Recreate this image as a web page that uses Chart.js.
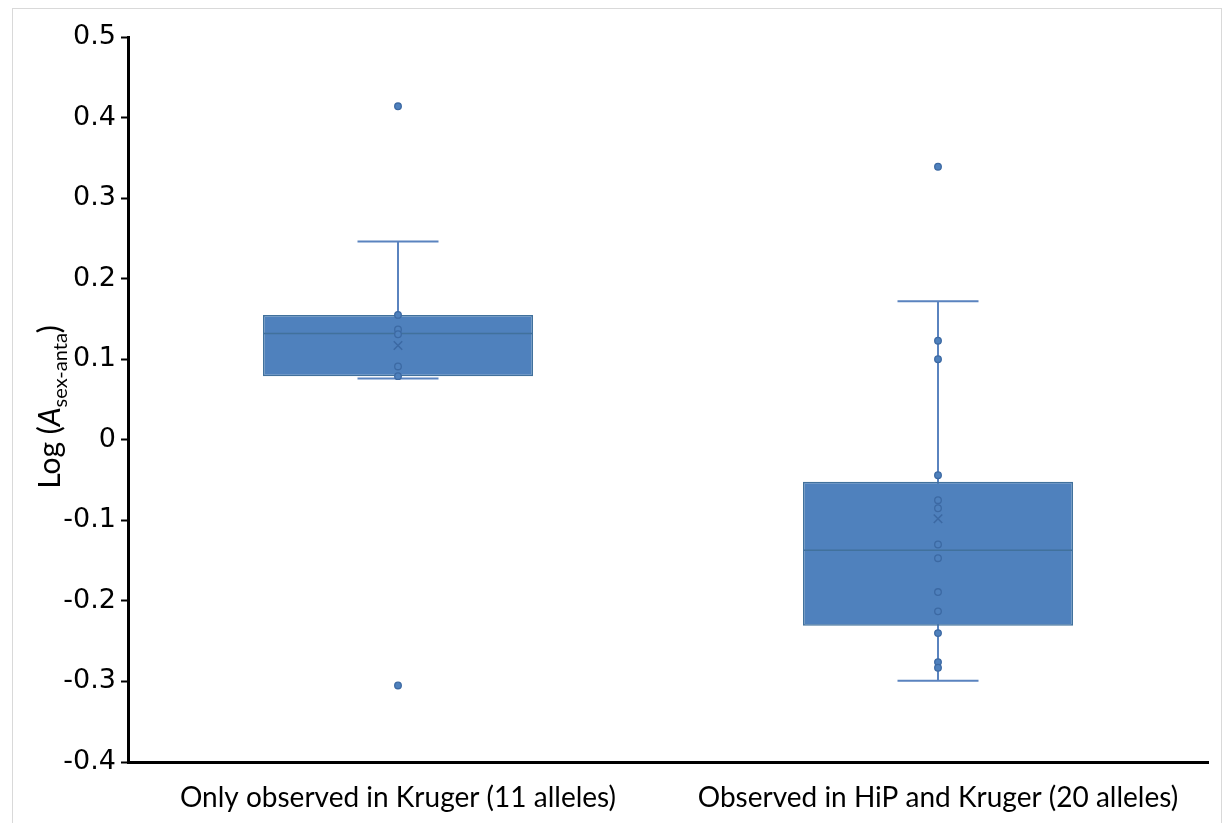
<!DOCTYPE html>
<html>
<head>
<meta charset="utf-8">
<script src="https://cdn.jsdelivr.net/npm/chart.js@4.4.1/dist/chart.umd.min.js"></script>
<style>
  body { margin: 0; background: #fff; }
  #wrap { width: 1224px; height: 823px; position: relative; }
</style>
</head>
<body>
<div id="wrap"><canvas id="boxChart"></canvas></div>
<script>
// Categories and box statistics
var categories = ['Only observed in Kruger (11 alleles)', 'Observed in HiP and Kruger (20 alleles)'];
var q1 = [0.079, -0.231];
var q3 = [0.155, -0.052];
var median = [0.132, -0.137];
var mean = [0.117, -0.098];
var whiskerLow = [0.076, -0.299];
var whiskerHigh = [0.246, 0.172];
// Individual alleles shown as dots
var krugerPoints = [0.414, 0.155, 0.137, 0.131, 0.091, 0.079, -0.305];
var hipPoints = [0.339, 0.123, 0.100, -0.044, -0.075, -0.085, -0.130, -0.147, -0.189, -0.213, -0.240, -0.276, -0.283];
var yTicks = [0.5, 0.4, 0.3, 0.2, 0.1, 0, -0.1, -0.2, -0.3, -0.4];

var boxBlue = '#4F81BD';
var boxEdge = '#41719C';
var lineBlue = '#5A83BF';
var dotEdge = '#3C69A3';

// Build point lists for the scatter datasets
var pointData = [];
krugerPoints.forEach(function(v){ pointData.push({x: categories[0], y: v}); });
hipPoints.forEach(function(v){ pointData.push({x: categories[1], y: v}); });
var meanData = mean.map(function(v, i){ return {x: categories[i], y: v}; });

// Draws whiskers, caps, median line, the y title and the frame
var boxExtras = {
    id: 'boxExtras',
    beforeDatasetsDraw: function(chart) {
        var ctx = chart.ctx;
        var x = chart.scales.x, y = chart.scales.y;
        ctx.save();
        ctx.strokeStyle = lineBlue;
        ctx.lineWidth = 2;
        for (var i = 0; i < categories.length; i++) {
            var cx = x.getPixelForValue(i);
            var capHalf = x.width / categories.length * 0.075;
            ctx.beginPath();
            ctx.moveTo(cx, y.getPixelForValue(whiskerHigh[i]));
            ctx.lineTo(cx, y.getPixelForValue(whiskerLow[i]));
            ctx.moveTo(cx - capHalf, y.getPixelForValue(whiskerHigh[i]));
            ctx.lineTo(cx + capHalf, y.getPixelForValue(whiskerHigh[i]));
            ctx.moveTo(cx - capHalf, y.getPixelForValue(whiskerLow[i]));
            ctx.lineTo(cx + capHalf, y.getPixelForValue(whiskerLow[i]));
            ctx.stroke();
        }
        ctx.restore();
    },
    afterDatasetDraw: function(chart, args) {
        if (args.index !== 0) return;
        var ctx = chart.ctx;
        var y = chart.scales.y;
        var meta = chart.getDatasetMeta(0);
        ctx.save();
        ctx.strokeStyle = boxEdge;
        ctx.lineWidth = 1.5;
        meta.data.forEach(function(bar, i) {
            var half = bar.width / 2;
            var py = y.getPixelForValue(median[i]);
            ctx.beginPath();
            ctx.moveTo(bar.x - half, py);
            ctx.lineTo(bar.x + half, py);
            ctx.stroke();
        });
        ctx.restore();
    },
    afterDraw: function(chart) {
        var ctx = chart.ctx;
        ctx.save();
        // light frame round the chart
        ctx.strokeStyle = '#d9d9d9';
        ctx.lineWidth = 1;
        ctx.strokeRect(12.5, 8.5, 1209, 840);
        // y axis title: Log (A sex-anta)
        var parts = [
            {t: 'Log (', f: '30px Lato', dy: 0},
            {t: 'A', f: 'italic 30px Lato', dy: 0},
            {t: 'sex-anta', f: '20px Lato', dy: 7},
            {t: ')', f: '30px Lato', dy: 0}
        ];
        var total = 0;
        parts.forEach(function(p){ ctx.font = p.f; p.w = ctx.measureText(p.t).width; total += p.w; });
        ctx.translate(60, 407);
        ctx.rotate(-Math.PI / 2);
        ctx.fillStyle = '#000';
        ctx.textBaseline = 'alphabetic';
        var cur = -total / 2;
        parts.forEach(function(p){
            ctx.font = p.f;
            ctx.fillText(p.t, cur, p.dy);
            cur += p.w;
        });
        ctx.restore();
    }
};

var ctx = document.getElementById('boxChart').getContext('2d');
var myChart = new Chart(ctx, {
    type: 'bar',
    data: {
        labels: categories,
        datasets: [{
            label: 'Box',
            data: q1.map(function(v, i){ return [v, q3[i]]; }),
            backgroundColor: boxBlue,
            borderColor: boxEdge,
            borderWidth: 1.5,
            borderSkipped: false,
            barPercentage: 0.5,
            categoryPercentage: 1.0,
            order: 3
        }, {
            type: 'scatter',
            label: 'Alleles',
            data: pointData,
            backgroundColor: boxBlue,
            borderColor: dotEdge,
            borderWidth: 1.3,
            pointRadius: 3.3,
            order: 2
        }, {
            type: 'scatter',
            label: 'Mean',
            data: meanData,
            pointStyle: 'crossRot',
            borderColor: dotEdge,
            borderWidth: 1.5,
            pointRadius: 6,
            order: 1
        }]
    },
    options: {
        responsive: true,
        maintainAspectRatio: false,
        animation: false,
        layout: { padding: { top: 37, right: 16, left: 0, bottom: 0 } },
        plugins: {
            legend: { display: false },
            tooltip: { enabled: false }
        },
        scales: {
            x: {
                type: 'category',
                offset: true,
                grid: { display: false },
                border: { display: true, color: '#000', width: 3 },
                ticks: {
                    color: '#000',
                    font: { family: 'Lato', size: 28 },
                    padding: 11
                },
                afterFit: function(scale) { scale.height = 61; }
            },
            y: {
                min: -0.4,
                max: 0.5,
                afterBuildTicks: function(scale) {
                    scale.ticks = yTicks.map(function(v){ return {value: v}; });
                },
                grid: {
                    drawOnChartArea: false,
                    drawTicks: true,
                    tickLength: 7,
                    tickColor: '#000',
                    tickWidth: 2
                },
                border: { display: true, color: '#000', width: 3 },
                ticks: {
                    color: '#000',
                    font: { family: 'DejaVu Sans', size: 27 },
                    padding: 5,
                    callback: function(v) { return v === 0 ? '0' : String(Math.round(v * 10) / 10); }
                },
                afterFit: function(scale) { scale.width = 128; }
            }
        }
    },
    plugins: [boxExtras]
});
</script>
</body>
</html>
